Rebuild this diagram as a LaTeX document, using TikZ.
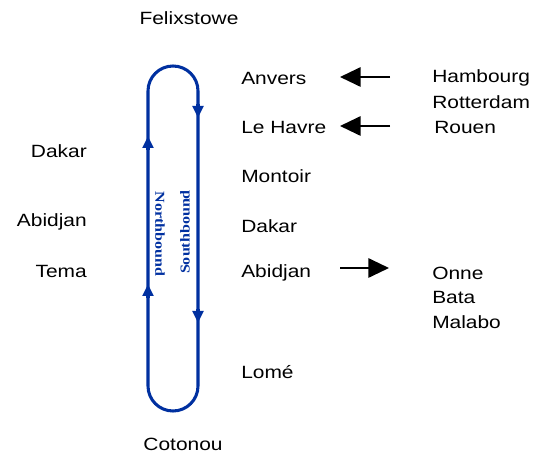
\documentclass[tikz,border=0pt]{standalone}
\usepackage{fontspec}
\setmainfont{Liberation Sans}[FakeStretch=1.18]
\newfontfamily\boundfont{Liberation Serif}[FakeStretch=1.18]
\usetikzlibrary{arrows.meta}
\tikzset{>=Stealth}
\definecolor{routeblue}{RGB}{0,48,160}

\begin{document}
\begin{tikzpicture}[x=0.75pt,y=-0.75pt,
    port/.style={font=\fontsize{13.3}{16}\selectfont,inner sep=0pt},
    bound/.style={font=\boundfont\bfseries\fontsize{10.2}{12}\selectfont,text=routeblue,inner sep=0pt},
    loopline/.style={draw=routeblue,line width=2.3pt},
    bluetip/.style={loopline,-{Triangle[length=9pt,width=8pt]}},
    feeder/.style={line width=1.5pt,-{Triangle[length=15.5pt,width=14.5pt]}}]
    \useasboundingbox (0,0) rectangle (547,459);
    % end ports
    \node[port] at (189,18) (felixstowe) {Felixstowe};
    \node[port] at (183,444) (cotonou) {Cotonou};
    % southbound calls
    \node[port,anchor=west] at (241,78) (anvers) {Anvers};
    \node[port,anchor=west] at (241,127) (lehavre) {Le Havre};
    \node[port,anchor=west] at (241,176) (montoir) {Montoir};
    \node[port,anchor=west] at (241,226) (dakarS) {Dakar};
    \node[port,anchor=west] at (241,273) (abidjanS) {Abidjan};
    \node[port,anchor=west] at (241,372) (lome) {Lomé};
    % northbound calls
    \node[port,anchor=east] at (87,151) (dakarN) {Dakar};
    \node[port,anchor=east] at (87,222) (abidjanN) {Abidjan};
    \node[port,anchor=east] at (87,271) (tema) {Tema};
    % feeder ports
    \node[port,anchor=west] at (432,78) (hambourg) {Hambourg};
    \node[port,anchor=west] at (432,102) (rotterdam) {Rotterdam};
    \node[port,anchor=west] at (434,127) (rouen) {Rouen};
    \node[port,anchor=west] at (432,273) (onne) {Onne};
    \node[port,anchor=west] at (432,297) (bata) {Bata};
    \node[port,anchor=west] at (432,322) (malabo) {Malabo};
    % rotation
    \draw[loopline,rounded corners=18.75pt] (148,66) rectangle (198,411);
    \draw[bluetip] (198,104) -- (198,118);
    \draw[bluetip] (198,309) -- (198,323);
    \draw[bluetip] (148,298) -- (148,284);
    \draw[bluetip] (148,150) -- (148,136);
    \node[bound,rotate=-90] at (160,234) (north) {Northbound};
    \node[bound,rotate=90] at (185,232) (south) {Southbound};
    % feeder arrows
    \coordinate (hamFrom) at (390,77);
    \coordinate (hamTo) at (340,77);
    \coordinate (rouFrom) at (390,126);
    \coordinate (rouTo) at (340,126);
    \coordinate (onFrom) at (340,268);
    \coordinate (onTo) at (389,268);
    \draw[feeder] (hamFrom) -- (hamTo);
    \draw[feeder] (rouFrom) -- (rouTo);
    \draw[feeder] (onFrom) -- (onTo);
\end{tikzpicture}
\end{document}
